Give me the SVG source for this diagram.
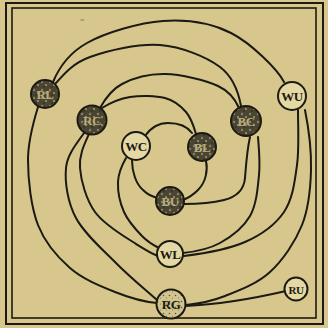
<svg xmlns="http://www.w3.org/2000/svg" width="328" height="328" viewBox="0 0 328 328">
<defs>
<style>
.edge{fill:none;stroke:#1c1a12;stroke-width:2;stroke-linecap:round}
.n circle{stroke:#1c1a12;stroke-width:2}
.dark circle{fill:url(#mottle)}
.white circle{fill:#e4d8a4}
.speck circle{fill:url(#speck)}
text{font-family:"Liberation Serif","DejaVu Serif",serif;font-size:13px;font-weight:bold;text-anchor:middle;letter-spacing:-0.5px}
.dark text{fill:#b9ad7c}
.white text,.speck text{fill:#1c1a12}
</style>
<pattern id="mottle" width="8" height="8" patternUnits="userSpaceOnUse">
<rect width="8" height="8" fill="#4a4532"/>
<circle cx="2" cy="2" r="1.2" fill="#8a8060"/>
<circle cx="6" cy="5" r="1" fill="#a69a6e"/>
<circle cx="4" cy="7" r="0.8" fill="#2a2618"/>
</pattern>
<pattern id="speck" width="6" height="6" patternUnits="userSpaceOnUse">
<rect width="6" height="6" fill="#d2c48e"/>
<circle cx="1.5" cy="1.5" r="0.8" fill="#5a5338"/>
<circle cx="4.5" cy="4" r="0.6" fill="#7a7050"/>
</pattern>
</defs>
<rect width="328" height="328" fill="#d7c78d"/>
<rect x="6" y="3" width="317" height="321" fill="none" stroke="#1c1a12" stroke-width="2"/>
<rect x="12" y="8" width="304" height="310" fill="none" stroke="#1c1a12" stroke-width="1.6"/>
<text x="82" y="23" style="font-size:8px;fill:#8a8266;font-weight:normal">=</text>
<g id="edges">
<path class="edge" d="M53,82 C58,70 68.7,53.2 87,43 C105.3,32.8 139,22.7 163,21 C187,19.3 210.8,22.8 231,33 C251.2,43.2 278,70 284,82"/>
<path class="edge" d="M56,83 C64,74 72.7,63.3 90,57 C107.3,50.7 138.3,43.3 160,45 C181.7,46.7 206.5,56.8 220,67 C233.5,77.2 239,95 241,106"/>
<path class="edge" d="M100,108 C105,99 111.2,89.7 122,84 C132.8,78.3 149,73.7 165,74 C181,74.3 205.7,80.3 218,86 C230.3,91.7 236,101 239,108"/>
<path class="edge" d="M102,108 C110,103 119.5,98.7 130,97 C140.5,95.3 155.7,95.5 165,98 C174.3,100.5 180.8,106 186,112 C191.2,118 194,127 196,134"/>
<path class="edge" d="M145,136 C152,126 160,123 168,123 C177,123 187,126 192,133"/>
<path class="edge" d="M38,107 C34,120 28,140.3 28,160 C28,179.7 31,207 38,225 C45,243 57.2,256.8 70,268 C82.8,279.2 100.5,286.2 115,292 C129.5,297.8 145,302 157,303"/>
<path class="edge" d="M84,133 C78,142 67.3,153.8 66,168 C64.7,182.2 67.5,202 76,218 C84.5,234 103.5,250.3 117,264 C130.5,277.7 147,291 157,300"/>
<path class="edge" d="M89,134 C84,145 79,155 80,168 C81,181 86.2,199.7 95,212 C103.8,224.3 122.7,235.5 133,242 C143.3,248.5 150,253 158,256"/>
<path class="edge" d="M126,158 C122,165 118.3,173 118,182 C117.7,191 120,203 124,212 C128,221 136.2,230 142,236 C147.8,242 153,245 159,248"/>
<path class="edge" d="M132,160 C132,172 136,184 143,190 C148,195 153,197 158,198"/>
<path class="edge" d="M206,161 C208,170 206,182 198,190 C193,195 188,198 183,200"/>
<path class="edge" d="M250,137 C247,150 246,165 245,178 C244,190 236,197 224,200 C212,203 195,204 184,204"/>
<path class="edge" d="M258,137 C259,150 260.3,161.8 259,175 C257.7,188.2 256.5,204.7 250,216 C243.5,227.3 231.2,236.8 220,243 C208.8,249.2 192,252 183,253"/>
<path class="edge" d="M298,110 C298,128 299.3,148 297,165 C294.7,182 292.7,199.2 284,212 C275.3,224.8 261.7,234.7 245,242 C228.3,249.3 200,254 184,256"/>
<path class="edge" d="M305,110 C308,125 311.5,150.8 311,170 C310.5,189.2 308.8,208 302,225 C295.2,242 282.8,260.2 270,272 C257.2,283.8 239,290.5 225,296 C211,301.5 196,304 186,305"/>
<path class="edge" d="M185,306 Q230,304 286,291"/>
</g>
<g id="RL" class="n dark"><circle cx="45" cy="94" r="14"/><text x="45" y="99">RL</text></g>
<g id="RC" class="n dark"><circle cx="92" cy="120" r="14.5"/><text x="92" y="125">RC</text></g>
<g id="WC" class="n white"><circle cx="136" cy="146" r="14"/><text x="136" y="151">WC</text></g>
<g id="BL" class="n dark"><circle cx="202" cy="147" r="14"/><text x="202" y="152">BL</text></g>
<g id="BC" class="n dark"><circle cx="246" cy="121" r="15"/><text x="246" y="126">BC</text></g>
<g id="WU" class="n white"><circle cx="292" cy="96" r="14"/><text x="292" y="101">WU</text></g>
<g id="BU" class="n dark"><circle cx="170" cy="201" r="14"/><text x="170" y="206">BU</text></g>
<g id="WL" class="n white"><circle cx="170" cy="254" r="13"/><text x="170" y="259">WL</text></g>
<g id="RG" class="n speck"><circle cx="171" cy="304" r="14.5"/><text x="171" y="309">RG</text></g>
<g id="RU" class="n white"><circle cx="296" cy="289" r="11.5"/><text x="296" y="293.5" style="font-size:11px">RU</text></g>
</svg>
